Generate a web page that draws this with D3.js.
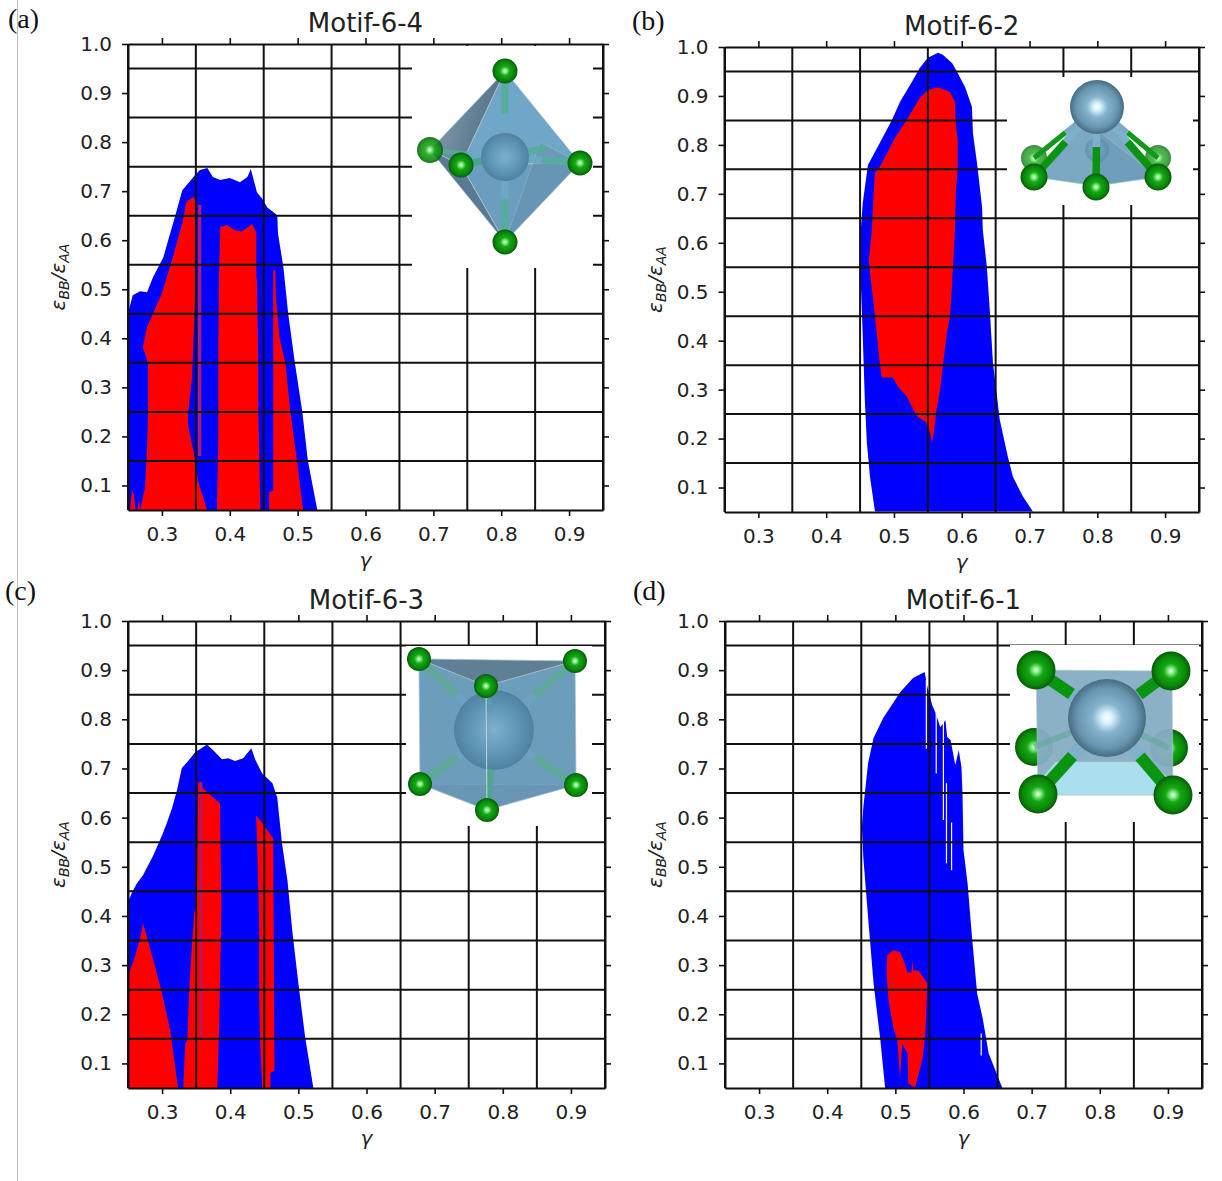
<!DOCTYPE html>
<html>
<head>
<meta charset="utf-8">
<style>
  html, body { margin: 0; padding: 0; background: #fff; }
  svg { display: block; }
  .tick text { font-family: "DejaVu Sans", sans-serif; fill: #222; }
</style>
<script src="https://cdnjs.cloudflare.com/ajax/libs/d3/7.8.5/d3.min.js"></script>
</head>
<body>
<svg id="fig" width="1222" height="1181"></svg>
<script>
// regions are outlines of [gamma, epsBB/epsAA]
const xTicks = [0.3, 0.4, 0.5, 0.6, 0.7, 0.8, 0.9]
const yTicks = [0.1, 0.2, 0.3, 0.4, 0.5, 0.6, 0.7, 0.8, 0.9, 1.0]
const gridX = [0.25, 0.35, 0.45, 0.55, 0.65, 0.75, 0.85, 0.95]
const gridY = [0.15, 0.25, 0.35, 0.45, 0.55, 0.65, 0.75, 0.85, 0.95]

const blueA = [[.25,.05],[.25,.451],[.257,.488],[.268,.496],[.278,.494],[.287,.525],[.302,.565],[.319,.647],[.33,.702],[.349,.733],[.356,.743],[.367,.747],[.375,.729],[.386,.723],[.40,.727],[.415,.718],[.426,.729],[.431,.745],[.44,.698],[.448,.684],[.455,.667],[.47,.651],[.471,.614],[.479,.545],[.486,.451],[.496,.349],[.507,.249],[.515,.151],[.529,.05]]
const redA1 = [[.268,.05],[.275,.096],[.278,.172],[.2795,.247],[.2795,.349],[.272,.382],[.278,.423],[.287,.451],[.30,.492],[.309,.533],[.316,.565],[.33,.635],[.336,.678],[.346,.688],[.35,.682],[.35,.519],[.344,.315],[.3385,.247],[.3385,.223],[.349,.151],[.353,.11],[.3665,.05]]
const redA2 = [[.381,.05],[.383,.192],[.383,.382],[.384,.519],[.386,.627],[.396,.631],[.408,.62],[.418,.618],[.427,.627],[.433,.633],[.439,.616],[.439,.525],[.44,.519],[.442,.349],[.442,.247],[.443,.192],[.445,.05]]
const redA3 = [[.458,.05],[.458,.086],[.464,.09],[.464,.484],[.464,.539],[.467,.539],[.468,.484],[.473,.402],[.482,.349],[.489,.253],[.499,.151],[.508,.05]]
const redA4 = [[.253,.05],[.256,.09],[.259,.08],[.261,.05]]
const redA5 = [[.264,.05],[.266,.07],[.268,.05]]
const stripA = [[.353,.16],[.353,.672],[.358,.672],[.358,.16]]

const blueB = [[.472,.051],[.4646,.122],[.46,.192],[.457,.28],[.454,.408],[.451,.524],[.45,.606],[.454,.682],[.4616,.759],[.479,.804],[.497,.851],[.509,.888],[.5266,.929],[.538,.957],[.55,.978],[.565,.988],[.572,.984],[.586,.967],[.594,.947],[.605,.918],[.615,.878],[.6165,.824],[.6225,.763],[.63,.673],[.631,.627],[.637,.551],[.6416,.457],[.646,.355],[.652,.286],[.656,.239],[.668,.163],[.6755,.122],[.69,.082],[.705,.051]]
const redB = [[.565,.918],[.55,.912],[.538,.896],[.5206,.855],[.5015,.814],[.479,.755],[.472,.743],[.469,.673],[.4675,.627],[.463,.565],[.4646,.541],[.472,.449],[.479,.355],[.482,.325],[.4985,.325],[.506,.306],[.519,.286],[.5266,.265],[.534,.245],[.546,.235],[.553,.214],[.556,.192],[.559,.214],[.562,.253],[.568,.30],[.572,.347],[.578,.416],[.5826,.449],[.5856,.51],[.587,.551],[.59,.627],[.591,.694],[.594,.755],[.594,.81],[.591,.845],[.59,.888],[.5826,.908]]

const blueC = [[.25,.05],[.25,.428],[.256,.448],[.263,.466],[.272,.483],[.287,.523],[.30,.564],[.307,.589],[.315,.621],[.322,.656],[.329,.701],[.337,.713],[.3485,.733],[.366,.749],[.375,.737],[.388,.719],[.397,.721],[.407,.715],[.419,.721],[.431,.741],[.437,.717],[.447,.69],[.462,.67],[.469,.641],[.476,.548],[.484,.472],[.491,.371],[.50,.263],[.51,.153],[.522,.05]]
const redC1 = [[.25,.05],[.25,.279],[.26,.316],[.268,.356],[.272,.385],[.278,.356],[.29,.295],[.30,.242],[.312,.167],[.3235,.05]]
const redC2 = [[.331,.05],[.334,.14],[.337,.147],[.34,.255],[.344,.344],[.347,.407],[.351,.426],[.353,.672],[.357,.672],[.36,.66],[.385,.629],[.387,.412],[.384,.188],[.381,.05]]
const redC3 = [[.438,.605],[.447,.589],[.463,.558],[.465,.085],[.459,.081],[.459,.05],[.447,.05],[.444,.14],[.4425,.234],[.4425,.385],[.44,.523]]
const stripC = [[.356,.153],[.356,.672],[.359,.672],[.359,.153]]

const blueD = [[.485,.05],[.478,.147],[.468,.263],[.46,.397],[.453,.519],[.451,.58],[.453,.621],[.46,.711],[.468,.762],[.482,.802],[.507,.855],[.526,.884],[.543,.896],[.547,.866],[.554,.829],[.559,.813],[.566,.784],[.5735,.798],[.576,.764],[.581,.758],[.588,.707],[.593,.737],[.597,.703],[.5985,.65],[.60,.534],[.606,.466],[.612,.365],[.62,.242],[.628,.193],[.637,.12],[.657,.05]]
const redD = [[.497,.33],[.488,.32],[.487,.283],[.49,.228],[.497,.173],[.503,.147],[.507,.069],[.51,.14],[.518,.12],[.519,.059],[.529,.051],[.54,.11],[.544,.161],[.547,.263],[.541,.275],[.534,.289],[.526,.289],[.526,.314],[.5235,.285],[.518,.285],[.512,.31],[.507,.326]]
// thin white gaps in the blue of panel d: gamma, eps from, eps to
const slitsD = [[.5455,.74,.88],[.56,.69,.813],[.5705,.595,.798],[.575,.507,.67],[.5825,.493,.59],[.626,.116,.161]]

const panels = [
  { tag: '(a)', tagX: 8, tagY: 28, title: 'Motif-6-4', l: 128, r: 603, t: 44, b: 510, box: [412, 46, 593, 268],
    blue: [blueA], red: [redA1, redA2, redA3, redA4, redA5], strip: [stripA], slits: [], inset: insetA },
  { tag: '(b)', tagX: 632, tagY: 30, title: 'Motif-6-2', l: 724.5, r: 1199, t: 47, b: 512, box: [1007, 77, 1193, 205],
    blue: [blueB], red: [redB], strip: [], slits: [], inset: insetB },
  { tag: '(c)', tagX: 5, tagY: 600, title: 'Motif-6-3', l: 128, r: 605, t: 621, b: 1088, box: [406, 646, 592, 826],
    blue: [blueC], red: [redC1, redC2, redC3], strip: [stripC], slits: [], inset: insetC },
  { tag: '(d)', tagX: 633, tagY: 600, title: 'Motif-6-1', l: 725, r: 1202, t: 621, b: 1088, box: [1010, 645, 1199, 822],
    blue: [blueD], red: [redD], strip: [], slits: slitsD, inset: insetD }
]

const svg = d3.select('#fig')

// sphere shading
const defs = svg.append('defs')
function radial(id, stops, fx, fy) {
  const g = defs.append('radialGradient').attr('id', id)
    .attr('cx', '50%').attr('cy', '50%').attr('r', '50%').attr('fx', fx || '50%').attr('fy', fy || '50%')
  stops.forEach(s => g.append('stop').attr('offset', s[0]).attr('stop-color', s[1]))
}
radial('green', [['0%', '#f4fff4'], ['14%', '#8cf08c'], ['38%', '#14a814'], ['78%', '#0a860a'], ['100%', '#055a05']])
radial('steel', [['0%', '#ffffff'], ['14%', '#d8f2fc'], ['38%', '#86b4ce'], ['78%', '#6693ad'], ['100%', '#466c82']])
radial('ghost', [['0%', '#7fb0cc'], ['60%', '#5f97b6'], ['100%', '#4f829f']])
const slate = defs.append('linearGradient').attr('id', 'slate')
  .attr('x1', '0%').attr('y1', '0%').attr('x2', '100%').attr('y2', '35%')
slate.append('stop').attr('offset', '0%').attr('stop-color', '#8ea6b4')
slate.append('stop').attr('offset', '100%').attr('stop-color', '#4f6e84')

function sphere(g, c, r, fill, op) {
  g.append('circle').attr('cx', c[0]).attr('cy', c[1]).attr('r', r)
    .attr('fill', `url(#${fill})`).attr('opacity', op === undefined ? 1 : op)
}
function face(g, pts, fill, op) {
  g.append('polygon').attr('points', pts.map(p => p.join(',')).join(' '))
    .attr('fill', fill).attr('opacity', op === undefined ? 1 : op)
    .attr('stroke', '#b9c9d2').attr('stroke-width', 0.6)
}
// bond goes steel coloured from the centre, green at the ligand end
function bond(g, a, b, w, steel, green, op) {
  const m = [(a[0] + b[0]) / 2, (a[1] + b[1]) / 2]
  g.append('line').attr('x1', a[0]).attr('y1', a[1]).attr('x2', m[0]).attr('y2', m[1])
    .attr('stroke', steel).attr('stroke-width', w).attr('opacity', op)
  g.append('line').attr('x1', m[0]).attr('y1', m[1]).attr('x2', b[0]).attr('y2', b[1])
    .attr('stroke', green).attr('stroke-width', w).attr('opacity', op)
}

function insetA(g) {
  const T = [505, 71], B = [505, 242], L = [430, 150], F = [461, 165], R = [580, 163], C = [505, 157]
  face(g, [T, L, F], 'url(#slate)')
  face(g, [L, F, B], '#587a92')
  face(g, [T, F, R], '#70a6c7')
  face(g, [F, R, B], '#6b9ebe')
  face(g, [[540, 142], R, B], '#6490ab', 0.5)
  ;[T, B, R, [546, 148]].forEach(p => bond(g, C, p, 7, '#6fa8c8', '#55ae9c', 0.9))
  bond(g, C, L, 5, '#6fa8c8', '#55ae9c', 0.7)
  bond(g, C, F, 7, '#6fa8c8', '#3fa884', 0.9)
  sphere(g, C, 24, 'ghost')
  sphere(g, L, 13, 'green', 0.88)
  ;[T, B, F, R].forEach(p => sphere(g, p, 12.5, 'green'))
}
function insetB(g) {
  const C = [1097, 107]
  sphere(g, [1034, 158], 13, 'green', 0.75)
  sphere(g, [1158, 158], 13, 'green', 0.75)
  face(g, [[1034, 177], [1075, 128], [1120, 128], [1158, 177], [1096, 186]], '#7ba8c2')
  face(g, [[1096, 186], [1097, 130], [1158, 177]], '#6a9ab7', 0.7)
  sphere(g, [1097, 150], 12, 'ghost', 0.5)
  bond(g, C, [1034, 158], 5, '#79aac6', '#0f9a1a', 1)
  bond(g, C, [1158, 158], 5, '#79aac6', '#0f9a1a', 1)
  ;[[1034, 177], [1096, 187], [1158, 177]].forEach(p => {
    bond(g, C, p, 7.5, '#7eb0cc', '#0a9412', 1)
    sphere(g, p, 13.5, 'green')
  })
  sphere(g, C, 27, 'steel')
}
function insetC(g) {
  const A = [419, 659], D = [575, 661], E = [486, 686], P = [420, 784], Q = [576, 785], S = [487, 810], C = [494, 730]
  face(g, [A, D, Q, P], '#7aa6c0')
  face(g, [A, D, E], '#5e7f96')
  face(g, [P, Q, S], '#5d8099')
  face(g, [E, D, Q, S], '#6a9cbb', 0.85)
  face(g, [A, E, S, P], '#6a9cbb', 0.85)
  ;[A, D, P, Q].forEach(p => bond(g, C, p, 8, '#6fa2c0', '#5eaa99', 0.9))
  bond(g, C, S, 7, '#6fa2c0', '#4fa78c', 0.9)
  sphere(g, C, 40, 'ghost')
  bond(g, E, [491, 712], 6, '#5e99b8', '#5e99b8', 0.9)
  g.append('line').attr('x1', 486).attr('y1', 686).attr('x2', 487).attr('y2', 810)
    .attr('stroke', '#c4d2da').attr('stroke-width', 1)
  ;[A, D, E, P, Q, S].forEach(p => sphere(g, p, 12, 'green'))
}
function insetD(g) {
  const C = [1107, 718]
  sphere(g, [1034, 747], 19, 'green')
  sphere(g, [1169, 748], 19, 'green')
  face(g, [[1036, 670], [1172, 671], [1173, 795], [1038, 795]], '#86aec4', 0.96)
  face(g, [[1056, 762], [1150, 762], [1173, 782], [1173, 795], [1038, 795], [1038, 782]], '#aadfee')
  bond(g, C, [1034, 747], 6, '#8ab4c8', '#6aa9a0', 0.7)
  bond(g, C, [1169, 748], 6, '#8ab4c8', '#6aa9a0', 0.7)
  ;[[1036, 670], [1171, 671], [1038, 794], [1173, 795]].forEach(p => {
    bond(g, C, p, 12, '#7fb0cc', '#0a9412', 1)
    sphere(g, p, 19.5, 'green')
  })
  sphere(g, C, 39, 'steel')
}

// grey rule on the left of the page
svg.append('line').attr('x1', 17.5).attr('x2', 17.5).attr('y1', 0).attr('y2', 1181)
  .attr('stroke', '#bdbdbd').attr('stroke-width', 1)

panels.forEach(p => {
  const x = d3.scaleLinear().domain([0.25, 0.95]).range([p.l, p.r])
  const y = d3.scaleLinear().domain([0.05, 1.0]).range([p.b, p.t])
  const g = svg.append('g')
  const outline = d3.line().x(d => x(d[0])).y(d => y(d[1])).curve(d3.curveLinear)

  g.selectAll('.blue').data(p.blue).join('path').attr('class', 'blue')
    .attr('d', d => outline(d) + 'Z').attr('fill', '#0000ff')
  g.selectAll('.red').data(p.red).join('path').attr('class', 'red')
    .attr('d', d => outline(d) + 'Z').attr('fill', '#ff0000')
  g.selectAll('.strip').data(p.strip).join('path').attr('class', 'strip')
    .attr('d', d => outline(d) + 'Z').attr('fill', '#a81c7c')
  g.selectAll('.slit').data(p.slits).join('line').attr('class', 'slit')
    .attr('x1', d => x(d[0])).attr('x2', d => x(d[0]))
    .attr('y1', d => y(d[1])).attr('y2', d => y(d[2]))
    .attr('stroke', '#fff').attr('stroke-width', 1.2)

  // grid runs on top of the regions, the structure picture hides part of it
  g.selectAll('.gx').data(gridX).join('line').attr('class', 'gx')
    .attr('x1', d => x(d)).attr('x2', d => x(d)).attr('y1', p.t).attr('y2', p.b)
    .attr('stroke', '#111').attr('stroke-width', 2)
  g.selectAll('.gy').data(gridY).join('line').attr('class', 'gy')
    .attr('x1', p.l).attr('x2', p.r).attr('y1', d => y(d)).attr('y2', d => y(d))
    .attr('stroke', '#111').attr('stroke-width', 2)

  const ig = g.append('g')
  ig.append('rect').attr('x', p.box[0]).attr('y', p.box[1])
    .attr('width', p.box[2] - p.box[0]).attr('height', p.box[3] - p.box[1]).attr('fill', '#fff')
  p.inset(ig)

  // axes on all four sides, labels only bottom and left
  const fmt = d3.format('.1f')
  const axes = [
    [d3.axisBottom(x).tickValues(xTicks).tickFormat(fmt).tickSizeInner(6).tickSizeOuter(0).tickPadding(11), 0, p.b],
    [d3.axisLeft(y).tickValues(yTicks).tickFormat(fmt).tickSizeInner(6).tickSizeOuter(0).tickPadding(10), p.l, 0],
    [d3.axisTop(x).tickValues(xTicks).tickFormat('').tickSizeInner(6).tickSizeOuter(0), 0, p.t],
    [d3.axisRight(y).tickValues(yTicks).tickFormat('').tickSizeInner(6).tickSizeOuter(0), p.r, 0]
  ]
  axes.forEach(a => {
    const ag = g.append('g').attr('transform', `translate(${a[1]},${a[2]})`).call(a[0])
    ag.selectAll('line').attr('stroke', '#111').attr('stroke-width', 1.6)
    ag.select('.domain').attr('stroke', '#111').attr('stroke-width', 2)
    ag.selectAll('text').attr('font-size', 20)
  })

  g.append('text').attr('x', (p.l + p.r) / 2).attr('y', p.t - 12)
    .attr('text-anchor', 'middle').attr('font-family', '"DejaVu Sans"').attr('font-size', 26)
    .attr('fill', '#222').text(p.title)
  g.append('text').attr('x', (p.l + p.r) / 2).attr('y', p.b + 57)
    .attr('text-anchor', 'middle').attr('font-family', '"DejaVu Sans"').attr('font-style', 'italic')
    .attr('font-size', 20).attr('fill', '#222').text('γ')

  const yl = g.append('text')
    .attr('transform', `translate(${p.l - 63},${(p.t + p.b) / 2}) rotate(-90)`)
    .attr('text-anchor', 'middle').attr('font-family', '"DejaVu Sans"').attr('font-style', 'italic')
    .attr('font-size', 20).attr('fill', '#222')
  yl.append('tspan').text('ε')
  yl.append('tspan').attr('font-size', 14).attr('dy', 4).text('BB')
  yl.append('tspan').attr('dy', -4).text('/ε')
  yl.append('tspan').attr('font-size', 14).attr('dy', 4).text('AA')

  svg.append('text').attr('x', p.tagX).attr('y', p.tagY)
    .attr('font-family', '"Liberation Serif"').attr('font-size', 28).attr('fill', '#111').text(p.tag)
})
</script>
</body>
</html>
